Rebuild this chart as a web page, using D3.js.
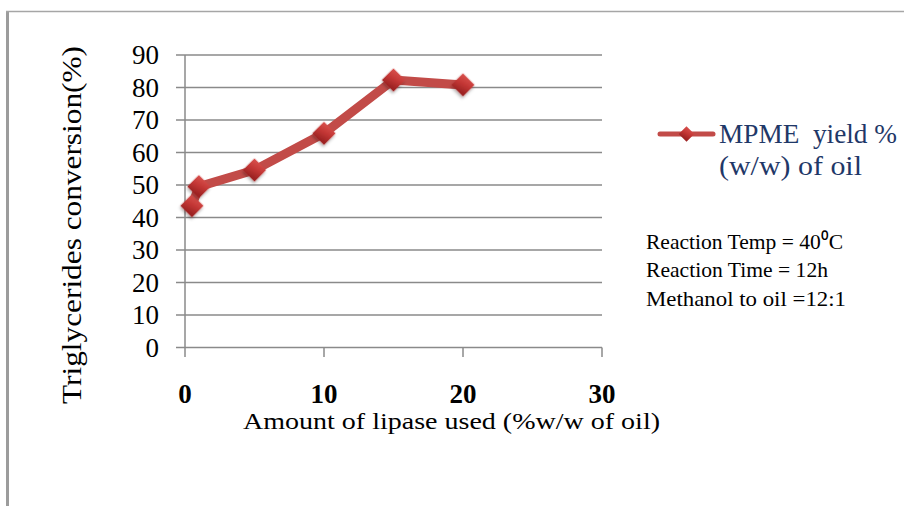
<!DOCTYPE html>
<html>
<head>
<meta charset="utf-8">
<script src="https://cdn.jsdelivr.net/npm/d3@7"></script>
<style>
  html, body { margin: 0; padding: 0; background: #fff; }
  svg { display: block; }
</style>
</head>
<body>
<script>
// Lipase loading (% w/w of oil) and triglyceride conversion (%)
const lipaseAmounts = [0.5, 1, 5, 10, 15, 20];
const conversionValues = [43.6, 49.5, 54.6, 65.9, 82.3, 80.8];
const xTickValues = [0, 10, 20, 30];
const yTickValues = [0, 10, 20, 30, 40, 50, 60, 70, 80, 90];
const seriesName = ["MPME  yield %", "(w/w) of oil"];
const conditionNotes = ["Reaction Temp = 40\u2070C", "Reaction Time = 12h", "Methanol to oil =12:1"];

const W = 904, H = 506;
const svg = d3.select("body").append("svg").attr("width", W).attr("height", H);

const defs = svg.append("defs");
const grad = defs.append("linearGradient").attr("id", "markerFill")
  .attr("x1", "0").attr("y1", "0").attr("x2", "0.3").attr("y2", "1");
grad.append("stop").attr("offset", "0%").attr("stop-color", "#d9514d");
grad.append("stop").attr("offset", "55%").attr("stop-color", "#c23634");
grad.append("stop").attr("offset", "100%").attr("stop-color", "#9e2424");
const shadow = defs.append("filter").attr("id", "markerShadow")
  .attr("x", "-50%").attr("y", "-50%").attr("width", "200%").attr("height", "200%");
shadow.append("feDropShadow").attr("dx", 1).attr("dy", 2).attr("stdDeviation", 1.5)
  .attr("flood-color", "#000").attr("flood-opacity", 0.3);

// Outer frame (left and top edges)
svg.append("line").attr("x1", 7.5).attr("x2", 7.5).attr("y1", 11).attr("y2", H)
  .attr("stroke", "#9c9c9c").attr("stroke-width", 3);
svg.append("line").attr("x1", 6).attr("x2", W).attr("y1", 11.5).attr("y2", 11.5)
  .attr("stroke", "#a6a6a6").attr("stroke-width", 1.5);

const x = d3.scaleLinear().domain([0, 30]).range([185, 602]);
const y = d3.scaleLinear().domain([0, 90]).range([347.5, 55]);

const gridColor = "#8a8a8a";

// Horizontal gridlines with outward tick stubs
svg.append("g").selectAll("line").data(yTickValues).join("line")
  .attr("x1", 176).attr("x2", x(30))
  .attr("y1", d => y(d)).attr("y2", d => y(d))
  .attr("stroke", gridColor).attr("stroke-width", 1.5);

// Y axis line
svg.append("line").attr("x1", x(0)).attr("x2", x(0)).attr("y1", y(90)).attr("y2", 357)
  .attr("stroke", gridColor).attr("stroke-width", 1.5);

// X axis ticks
svg.append("g").selectAll("line").data(xTickValues.slice(1)).join("line")
  .attr("x1", d => x(d)).attr("x2", d => x(d))
  .attr("y1", y(0)).attr("y2", 357)
  .attr("stroke", gridColor).attr("stroke-width", 1.5);

// Y tick labels
svg.append("g").selectAll("text").data(yTickValues).join("text")
  .attr("x", 159).attr("y", d => y(d) + 9)
  .attr("text-anchor", "end")
  .attr("font-family", "'Liberation Serif', 'Times New Roman', serif")
  .attr("font-size", 27).attr("fill", "#000")
  .text(d => d);

// X tick labels
svg.append("g").selectAll("text").data(xTickValues).join("text")
  .attr("x", d => x(d)).attr("y", 403)
  .attr("text-anchor", "middle")
  .attr("font-family", "'Liberation Serif', 'Times New Roman', serif")
  .attr("font-weight", "bold")
  .attr("font-size", 27).attr("fill", "#000")
  .text(d => d);

// Axis titles
svg.append("text")
  .attr("transform", "translate(81,225) rotate(-90)")
  .attr("text-anchor", "middle")
  .attr("font-family", "'Liberation Serif', 'Times New Roman', serif")
  .attr("font-size", 28).attr("fill", "#000")
  .attr("textLength", 358).attr("lengthAdjust", "spacingAndGlyphs")
  .text("Triglycerides conversion(%)");

svg.append("text")
  .attr("x", 243).attr("y", 429)
  .attr("font-family", "'Liberation Serif', 'Times New Roman', serif")
  .attr("font-size", 24).attr("fill", "#000")
  .attr("textLength", 417).attr("lengthAdjust", "spacingAndGlyphs")
  .text("Amount of lipase used (%w/w of oil)");

// Data line
const pts = lipaseAmounts.map((v, i) => [v, conversionValues[i]]);
const lineGen = d3.line().x(d => x(d[0])).y(d => y(d[1]));
svg.append("path").datum(pts)
  .attr("d", lineGen)
  .attr("fill", "none").attr("stroke", "#c24b48")
  .attr("stroke-width", 9).attr("stroke-linejoin", "round").attr("stroke-linecap", "round");

// Diamond markers
svg.append("g").selectAll("path").data(pts).join("path")
  .attr("transform", d => `translate(${x(d[0])},${y(d[1])}) rotate(45)`)
  .attr("d", d3.symbol().type(d3.symbolSquare).size(270))
  .attr("fill", "url(#markerFill)")
  .attr("filter", "url(#markerShadow)");

// Legend
const lg = svg.append("g");
lg.append("line").attr("x1", 660).attr("x2", 713).attr("y1", 134).attr("y2", 134)
  .attr("stroke", "#c24b48").attr("stroke-width", 5).attr("stroke-linecap", "round");
lg.append("path").attr("transform", "translate(686.5,134) rotate(45)")
  .attr("d", d3.symbol().type(d3.symbolSquare).size(120))
  .attr("fill", "url(#markerFill)");
lg.selectAll("text").data(seriesName).join("text")
  .attr("x", 719).attr("y", (d, i) => 143 + i * 32)
  .attr("font-family", "'Liberation Serif', 'Times New Roman', serif")
  .attr("font-size", 27).attr("fill", "#1f3868")
  .attr("textLength", (d, i) => i === 0 ? 178 : 143).attr("lengthAdjust", "spacingAndGlyphs")
  .style("white-space", "pre")
  .text(d => d);

// Reaction conditions
svg.append("g").selectAll("text").data(conditionNotes).join("text")
  .attr("x", 646).attr("y", (d, i) => [249, 277, 306][i])
  .attr("font-family", "'Liberation Serif', 'Times New Roman', serif")
  .attr("font-size", 22).attr("fill", "#000")
  .attr("textLength", (d, i) => [197, 182, 200][i]).attr("lengthAdjust", "spacingAndGlyphs")
  .text(d => d);
</script>
</body>
</html>
